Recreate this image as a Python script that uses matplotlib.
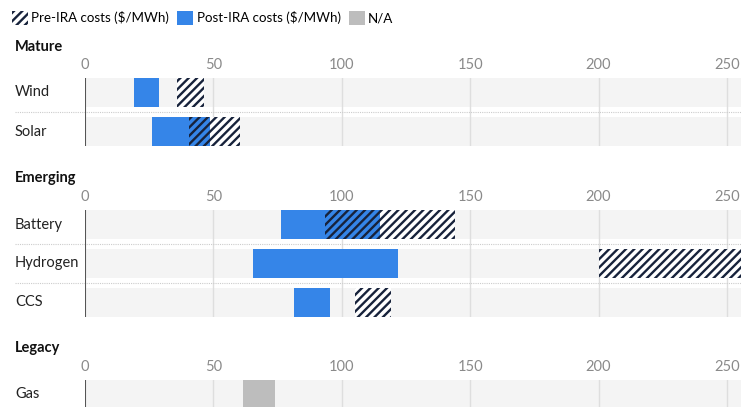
import matplotlib.pyplot as plt
from matplotlib.patches import Patch

plt.rcParams['font.family'] = ['Lato', 'DejaVu Sans']
plt.rcParams['hatch.linewidth'] = 1.7

# data ($/MWh ranges)
sections = ['Mature', 'Emerging', 'Legacy']
mature_rows = ['Wind', 'Solar']
mature_post_lo = [19, 26]
mature_post_hi = [29, 48.5]
mature_pre_lo = [36, 40.5]
mature_pre_hi = [46.5, 60.5]

emerging_rows = ['Battery', 'Hydrogen', 'CCS']
emerging_post_lo = [76.5, 65.5, 81.5]
emerging_post_hi = [115, 122, 95.5]
emerging_pre_lo = [93.5, 200, 105]
emerging_pre_hi = [144, 290, 119]

legacy_rows = ['Gas']
legacy_na_lo = [61.5]
legacy_na_hi = [74]

ticks = [0, 50, 100, 150, 200, 250]

blue = '#3585e8'
navy = '#17223b'
gray_na = '#bdbdbd'
band = '#f4f4f4'
hatch = '////'

W, H = 741, 407
fig = plt.figure(figsize=(W / 100, H / 100), dpi=100)

pitch = 39
bh = 29
x0 = 85


def make_axes(top_px, nrows):
    h = pitch * (nrows - 1) + bh
    ax = fig.add_axes([x0 / W, 1 - (top_px + h) / H, (W - x0) / W, h / H])
    b = bh / pitch
    ax.set_ylim(nrows - 1 + b / 2, -b / 2)
    ax.set_xlim(0, 255.5)
    for s in ax.spines.values():
        s.set_visible(False)
    ax.set_yticks([])
    ax.xaxis.tick_top()
    ax.set_xticks(ticks)
    ax.tick_params(axis='x', length=0, pad=4, labelsize=10.5, labelcolor='#8a8a8a')
    for i in range(nrows):
        ax.barh(i, 255.5, height=b, left=0, color=band, zorder=0)
    for t in ticks[1:]:
        ax.axvline(t, color='#dedede', lw=1, zorder=1)
    ax.axvline(0, color='#555555', lw=1.5, zorder=5)
    for i in range(nrows - 1):
        ax.plot([(15 - x0) / (W - x0), 1], [i + 0.5, i + 0.5], transform=ax.get_yaxis_transform(),
                ls=(0, (1, 1)), color='#cccccc', lw=0.8, clip_on=False)
    return ax, b


def section_title(text, y_px):
    fig.text(15 / W, 1 - y_px / H, text, fontsize=10.5, fontweight='bold', va='center', color='#111111')


def row_labels(ax, labels):
    for i, lab in enumerate(labels):
        ax.text((15 - x0) / (W - x0), i, lab, transform=ax.get_yaxis_transform(),
                ha='left', va='center', fontsize=10.5, color='#222222')


def ranges(ax, b, post_lo, post_hi, pre_lo, pre_hi):
    n = len(post_lo)
    y = list(range(n))
    pre_w = [h - l for l, h in zip(pre_lo, pre_hi)]
    post_w = [h - l for l, h in zip(post_lo, post_hi)]
    ax.barh(y, pre_w, left=pre_lo, height=b, color='white', lw=0, zorder=2)
    ax.barh(y, post_w, left=post_lo, height=b, color=blue, lw=0, zorder=3)
    ax.barh(y, pre_w, left=pre_lo, height=b, facecolor='none', edgecolor=navy,
            hatch=hatch, lw=0, zorder=4)


# Mature
section_title(sections[0], 47)
ax1, b = make_axes(78, len(mature_rows))
row_labels(ax1, mature_rows)
ranges(ax1, b, mature_post_lo, mature_post_hi, mature_pre_lo, mature_pre_hi)

# Emerging
section_title(sections[1], 178)
ax2, b = make_axes(210, len(emerging_rows))
row_labels(ax2, emerging_rows)
ranges(ax2, b, emerging_post_lo, emerging_post_hi, emerging_pre_lo, emerging_pre_hi)

# Legacy
section_title(sections[2], 348)
ax3, b = make_axes(380, len(legacy_rows))
row_labels(ax3, legacy_rows)
na_w = [h - l for l, h in zip(legacy_na_lo, legacy_na_hi)]
ax3.barh(range(len(legacy_rows)), na_w, left=legacy_na_lo, height=b, color=gray_na, lw=0, zorder=3)

# legend
handles = [
    Patch(facecolor='white', edgecolor=navy, hatch=hatch, lw=0, label='Pre-IRA costs ($/MWh)'),
    Patch(facecolor=blue, lw=0, label='Post-IRA costs ($/MWh)'),
    Patch(facecolor=gray_na, lw=0, label='N/A'),
]
fig.legend(handles=handles, loc='center left', bbox_to_anchor=(12 / W, 1 - 18 / H), ncol=3,
           frameon=False, fontsize=9.6, handlelength=1.2, handleheight=1.2,
           handletextpad=0.25, columnspacing=0.6, borderaxespad=0, borderpad=0)

fig.savefig('out.png', dpi=100)
